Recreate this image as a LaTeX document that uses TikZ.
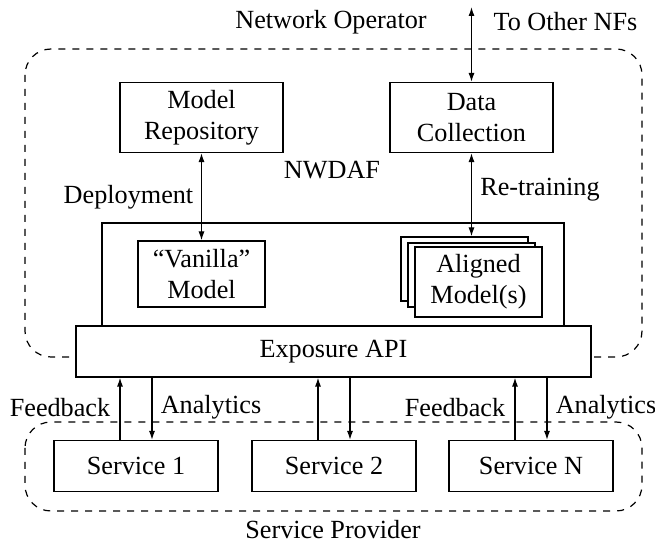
\documentclass[tikz,border=0pt]{standalone}
\usepackage{fontspec}
\setmainfont{Liberation Serif}
\usetikzlibrary{arrows.meta}
\begin{document}
\begin{tikzpicture}[x=0.5pt,y=-0.5pt,
  font=\fontsize{13.1}{15.5}\selectfont,
  line width=0.6pt,
  box/.style={draw, fill=white, inner sep=0pt, align=center},
  grp/.style={draw, dashed, dash pattern=on 3.5pt off 3.5pt, rounded corners=13pt},
  arr/.style={-{Latex[length=4.5pt,width=3pt]}},
  biarr/.style={{Latex[length=4.5pt,width=3pt]}-{Latex[length=4.5pt,width=3pt]}},
  lbl/.style={inner sep=0pt}]
\useasboundingbox (0,0) rectangle (655,545);

% operator and provider domains
\draw[grp] (25,49) rectangle (642,357);
\draw[grp] (25,422) rectangle (642,511);
\node[lbl] (op) at (331,22) {Network Operator};
\node[lbl] (sp) at (333,530) {Service Provider};

% NWDAF internals
\node[box, minimum width=81.5pt, minimum height=35pt] (mr) at (201.5,117.5) {Model\\Repository};
\node[box, minimum width=81.5pt, minimum height=35pt] (dc) at (471.5,117.5) {Data\\Collection};
\node[lbl] (nwdaf) at (332,170) {NWDAF};
\node[box, minimum width=231pt, minimum height=51.5pt] (core) at (333,274.5) {};
\node[box, minimum width=63.5pt, minimum height=33pt] (van) at (201.5,274) {``Vanilla''\\Model};
\node[box, minimum width=63.5pt, minimum height=32pt] (back) at (464.5,269) {};
\node[box, minimum width=63.5pt, minimum height=32pt] (mid) at (471.5,275) {};
\node[box, minimum width=63.5pt, minimum height=35pt] (al) at (478.5,282) {Aligned\\Model(s)};
\node[box, minimum width=257.5pt, minimum height=25.5pt] (api) at (333.5,351.5) {Exposure API};

% services
\node[box, minimum width=82pt, minimum height=25.5pt] (s1) at (136,466) {Service 1};
\node[box, minimum width=82pt, minimum height=25.5pt] (s2) at (334,466) {Service 2};
\node[box, minimum width=82pt, minimum height=25.5pt] (sn) at (531,466) {Service N};

% connectors
\coordinate (nf) at (471.5,7);
\draw[biarr] (nf) -- (dc.north);
\node[lbl, anchor=west] (tonf) at (493,22) {To Other NFs};
\draw[biarr] (mr.south) -- (van.north);
\node[lbl] (dep) at (128.5,197) {Deployment};
\draw[biarr] (dc.south) -- (back.north -| dc.south);
\node[lbl] (rt) at (540,190) {Re-training};

\foreach \s in {s1,s2,sn}{
  \draw[arr] ([xshift=-8pt]\s.north) -- ([xshift=-8pt]\s.north |- api.south);
  \draw[arr] ([xshift=8pt]\s.north |- api.south) -- ([xshift=8pt]\s.north);
}
\node[lbl] (fb1) at (60,408) {Feedback};
\node[lbl] (an1) at (211,407) {Analytics};
\node[lbl] (fbn) at (455,408) {Feedback};
\node[lbl] (ann) at (606,407) {Analytics};
\end{tikzpicture}
\end{document}
